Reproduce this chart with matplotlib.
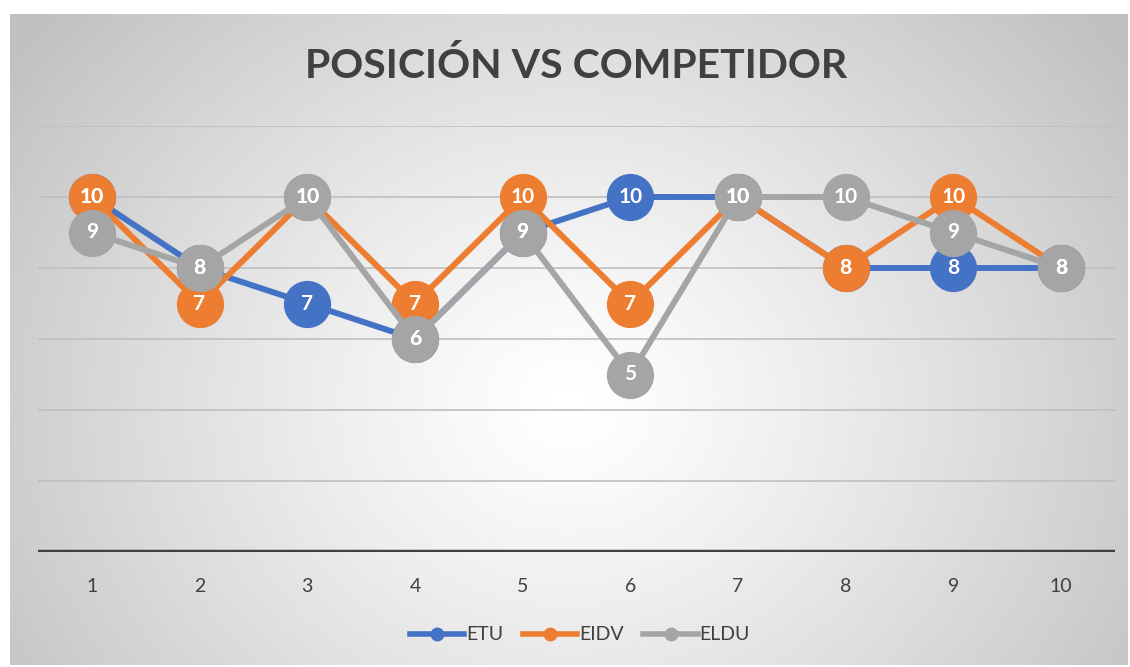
import numpy as np
import matplotlib.pyplot as plt

# Datos
categorias = [1, 2, 3, 4, 5, 6, 7, 8, 9, 10]
etu = [10, 8, 7, 6, 9, 10, 10, 8, 8, 8]
eidv = [10, 7, 10, 7, 10, 7, 10, 8, 10, 8]
eldu = [9, 8, 10, 6, 9, 5, 10, 10, 9, 8]

series = [("ETU", etu, "#4472C4"), ("EIDV", eidv, "#ED7D31"), ("ELDU", eldu, "#A5A5A5")]

fig = plt.figure(figsize=(11.3, 6.67), dpi=100)
fig.patch.set_facecolor("white")

# Fondo con degradado radial tipo Excel
W, H = 1130, 667
bx0, by0, bx1, by1 = 10, 14, 1128, 665
bg = fig.add_axes([bx0 / W, 1 - by1 / H, (bx1 - bx0) / W, (by1 - by0) / H], zorder=0)
nx, ny = 400, 240
xx, yy = np.meshgrid(np.linspace(0, 1, nx), np.linspace(0, 1, ny))
r = np.sqrt(((xx - 0.5) / 0.5) ** 2 + ((yy - 0.6) / 0.75) ** 2)
r = np.clip(r / 1.25, 0, 1)
v = 1.0 - 0.25 * r ** 1.2
bg.imshow(v, cmap="gray", vmin=0, vmax=1, aspect="auto", extent=[0, 1, 1, 0], interpolation="bilinear")
bg.axis("off")

ax = fig.add_axes([38 / W, 1 - 552 / H, (1115 - 38) / W, (552 - 126) / H], zorder=1)
ax.patch.set_alpha(0)

for y in [2, 4, 6, 8, 10, 12]:
    ax.axhline(y, color="#BFBFBF", lw=1.2, zorder=1)
ax.axhline(0, color="#404040", lw=3.2, zorder=2)

for i, (nombre, vals, color) in enumerate(series):
    ax.plot(categorias, vals, color=color, lw=4.3, marker="o", ms=33,
            mec=color, mfc=color, zorder=3 + i, label=nombre)

for nombre, vals, color in series:
    for x, y in zip(categorias, vals):
        ax.text(x, y, str(y), ha="center", va="center", color="white",
                fontsize=15, fontweight="bold", family="Lato", zorder=10)

ax.set_xlim(0.5, 10.5)
ax.set_ylim(0, 12)
ax.set_xticks(categorias)
ax.set_xticklabels([str(c) for c in categorias], fontsize=14, color="#404040", family="Lato")
ax.tick_params(axis="x", length=0, pad=19)
ax.set_yticks([])
for s in ax.spines.values():
    s.set_visible(False)

fig.text(576 / W, 1 - 66 / H, "POSICIÓN VS COMPETIDOR", ha="center", va="center",
         fontsize=29.5, fontweight="bold", color="#404040", family="Lato")

handles = [plt.Line2D([], [], color=c, lw=4, marker="o", ms=9) for _, _, c in series]
fig.legend(handles, [n for n, _, _ in series], loc="center", bbox_to_anchor=(580 / W, 1 - 635 / H),
           ncol=3, frameon=False, handlelength=2.8, handletextpad=0.1,
           columnspacing=1.0, prop={"family": "Lato", "size": 14}, labelcolor="#404040")

fig.savefig("out.png", dpi=100)
